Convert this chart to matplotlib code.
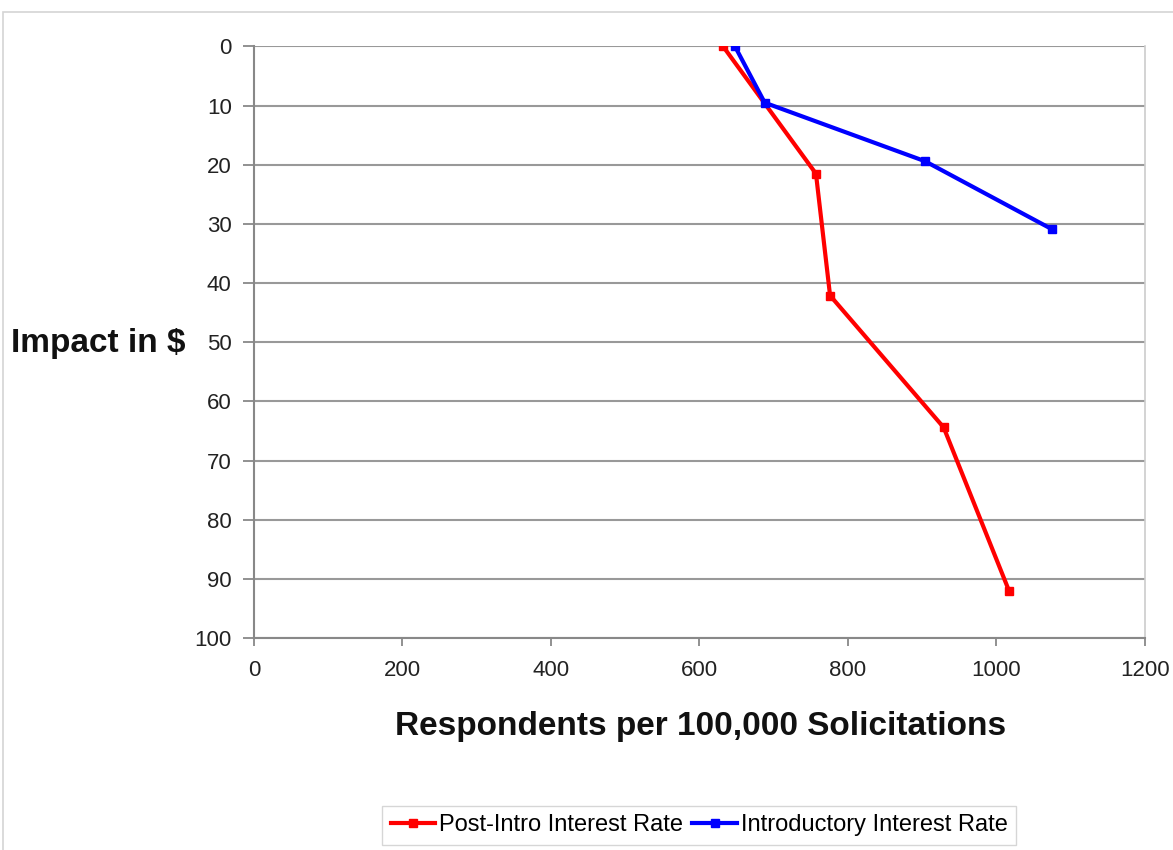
import matplotlib
matplotlib.use("Agg")
from matplotlib import pyplot as plt
from matplotlib.patches import Rectangle

plt.rcParams['font.family'] = ['Liberation Sans', 'DejaVu Sans']

# data
post_intro_x = [632, 757, 776, 929, 1017]
post_intro_y = [0, 21.5, 42.1, 64.4, 92]
intro_x = [648, 688, 904, 1075]
intro_y = [0, 9.5, 19.4, 30.9]

y_ticks = list(range(0, 101, 10))
x_ticks = list(range(0, 1201, 200))

fig = plt.figure(figsize=(11.73, 8.5), dpi=100)
ax = fig.add_axes([0.2165, 0.2494, 0.7595, 0.6959])

# chart area border
fig.patches.append(Rectangle((3/1173, -0.1), 1.2, 0.1 + 1 - 12/850,
                             transform=fig.transFigure, fill=False,
                             edgecolor='#d4d4d4', linewidth=1.2))

ax.plot(post_intro_x, post_intro_y, '-s', color='#ff0000', linewidth=3,
        markersize=6, label='Post-Intro Interest Rate')
ax.plot(intro_x, intro_y, '-s', color='#0000ff', linewidth=3,
        markersize=6, label='Introductory Interest Rate')

ax.set_xlim(0, 1200)
ax.set_ylim(100, 0)
ax.set_xticks(x_ticks)
ax.set_yticks(y_ticks)
ax.tick_params(axis='both', labelsize=16, colors='#888888', labelcolor='#222222')
ax.tick_params(axis='y', length=8, width=1.3, pad=8)
ax.tick_params(axis='x', length=6, width=1.3, pad=10)

ax.grid(True, axis='y', color='#999999', linewidth=1.5)
ax.set_axisbelow(True)
for side in ['left', 'bottom']:
    ax.spines[side].set_color('#888888')
    ax.spines[side].set_linewidth(1.5)
ax.spines['top'].set_visible(False)
ax.spines['right'].set_color('#cccccc')
ax.spines['right'].set_linewidth(1.2)

fig.text(0.597, 0.145, 'Respondents per 100,000 Solicitations', ha='center',
         va='center', fontsize=24, fontweight='bold', color='#111111')
fig.text(0.084, 0.596, 'Impact in $', ha='center', va='center',
         fontsize=24, fontweight='bold', color='#111111')

leg = fig.legend(loc='center', bbox_to_anchor=(0.596, 0.029), ncol=2,
                 fontsize=17, frameon=True, fancybox=False, handlelength=1.9,
                 handletextpad=0.15, columnspacing=0.4, borderpad=0.35,
                 edgecolor='#cccccc')
leg.get_frame().set_linewidth(1.0)

fig.savefig('out.png', dpi=100)
